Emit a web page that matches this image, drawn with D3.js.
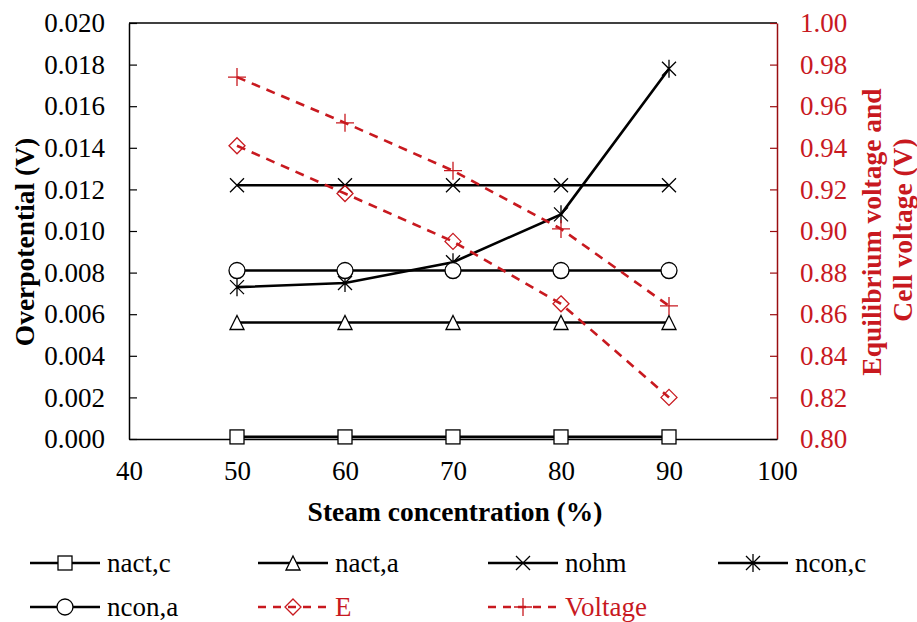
<!DOCTYPE html>
<html>
<head>
<meta charset="utf-8">
<script src="https://cdn.jsdelivr.net/npm/d3@7"></script>
</head>
<body style="margin:0">
<script>
// data
const steam = [50, 60, 70, 80, 90];
const nactC = [0.0001, 0.0001, 0.0001, 0.0001, 0.0001];
const nactA = [0.0056, 0.0056, 0.0056, 0.0056, 0.0056];
const nohm = [0.0122, 0.0122, 0.0122, 0.0122, 0.0122];
const nconC = [0.0073, 0.0075, 0.0085, 0.0108, 0.0178];
const nconA = [0.0081, 0.0081, 0.0081, 0.0081, 0.0081];
const eqE = [0.941, 0.918, 0.895, 0.865, 0.820];
const voltage = [0.974, 0.952, 0.929, 0.901, 0.864];

const xTicks = [40, 50, 60, 70, 80, 90, 100];
const yLeftTicks = d3.range(0, 0.0201, 0.002);
const yRightTicks = d3.range(0.80, 1.001, 0.02);

const red = "#c8191f";
const darkRed = "#9a0d10";
const fontName = '"Liberation Serif"';

const mLeft = 129, mRight = 777, mTop = 23, mBottom = 439;

const svg = d3.select("body").append("svg")
    .attr("width", 917).attr("height", 622)
    .attr("font-family", "Liberation Serif");

const x = d3.scaleLinear().domain([40, 100]).range([mLeft, mRight]);
const y = d3.scaleLinear().domain([0, 0.020]).range([mBottom, mTop]);
const y2 = d3.scaleLinear().domain([0.80, 1.00]).range([mBottom, mTop]);

// top border of plot area
svg.append("line")
  .attr("x1", mLeft).attr("x2", mRight).attr("y1", mTop).attr("y2", mTop)
  .attr("stroke", "#000").attr("stroke-width", 1.5);

// left axis
const gl = svg.append("g")
  .attr("transform", `translate(${mLeft},0)`)
  .call(d3.axisLeft(y).tickValues(yLeftTicks).tickFormat(d3.format(".3f"))
    .tickSizeInner(-8).tickSizeOuter(0).tickPadding(24))
  .attr("font-family", "Liberation Serif").attr("font-size", 27);
gl.select(".domain").attr("stroke", "#000").attr("stroke-width", 1.5);
gl.selectAll(".tick line").attr("stroke", "#000").attr("stroke-width", 1.2);
gl.selectAll(".tick text").attr("fill", "#000")
  .style("font-family", fontName).style("font-size", "27px");

// right axis
const gr = svg.append("g")
  .attr("transform", `translate(${mRight},0)`)
  .call(d3.axisRight(y2).tickValues(yRightTicks).tickFormat(d3.format(".2f"))
    .tickSizeInner(-7).tickSizeOuter(0).tickPadding(23))
  .attr("font-family", "Liberation Serif").attr("font-size", 27);
gr.select(".domain").attr("stroke", darkRed).attr("stroke-width", 1.5);
gr.selectAll(".tick line").attr("stroke", darkRed).attr("stroke-width", 1.2);
gr.selectAll(".tick text").attr("fill", red)
  .style("font-family", fontName).style("font-size", "27px");

// bottom axis
const gb = svg.append("g")
  .attr("transform", `translate(0,${mBottom})`)
  .call(d3.axisBottom(x).tickValues(xTicks).tickFormat(d3.format("d"))
    .tickSize(0).tickPadding(22))
  .attr("font-family", "Liberation Serif").attr("font-size", 27);
gb.select(".domain").attr("stroke", "#000").attr("stroke-width", 1.5);
gb.selectAll(".tick text").attr("fill", "#000").attr("dy", "0.71em")
  .style("font-family", fontName).style("font-size", "27px");

// axis titles
function title(t, color) {
  return t.attr("text-anchor", "middle").attr("fill", color)
    .style("font-family", fontName).style("font-size", "27.5px").style("font-weight", "bold");
}
title(svg.append("text")
  .attr("transform", "translate(34,242) rotate(-90)"), "#000")
  .text("Overpotential (V)");
title(svg.append("text")
  .attr("x", 455).attr("y", 521), "#000")
  .text("Steam concentration (%)");
title(svg.append("text")
  .attr("transform", "translate(881,232) rotate(-90)"), red)
  .text("Equilibrium voltage and");
title(svg.append("text")
  .attr("transform", "translate(912,230) rotate(-90)"), red)
  .text("Cell voltage (V)");

// marker shapes, drawn around (0,0)
function marker(g, kind, color) {
  const s = 7;
  if (kind == "square") {
    g.append("rect").attr("x", -s).attr("y", -s).attr("width", 2 * s).attr("height", 2 * s)
      .attr("fill", "#fff").attr("stroke", color).attr("stroke-width", 1.3);
  } else if (kind == "triangle") {
    g.append("path").attr("d", `M0,${-s}L${s},${s}L${-s},${s}Z`)
      .attr("fill", "#fff").attr("stroke", color).attr("stroke-width", 1.3);
  } else if (kind == "x") {
    g.append("path").attr("d", `M${-s},${-s}L${s},${s}M${-s},${s}L${s},${-s}`)
      .attr("stroke", color).attr("stroke-width", 1.3);
  } else if (kind == "star") {
    g.append("path").attr("d", `M${-s},${-s}L${s},${s}M${-s},${s}L${s},${-s}M0,${-s - 2}L0,${s + 2}`)
      .attr("stroke", color).attr("stroke-width", 1.3);
  } else if (kind == "circle") {
    g.append("circle").attr("r", s + 1)
      .attr("fill", "#fff").attr("stroke", color).attr("stroke-width", 1.3);
  } else if (kind == "diamond") {
    g.append("path").attr("d", `M0,${-s - 1}L${s + 1},0L0,${s + 1}L${-s - 1},0Z`)
      .attr("fill", "none").attr("stroke", color).attr("stroke-width", 1.3);
  } else if (kind == "plus") {
    g.append("path").attr("d", `M${-s - 2},0L${s + 2},0M0,${-s - 2}L0,${s + 2}`)
      .attr("stroke", color).attr("stroke-width", 1.3);
  }
}

const series = [
  { name: "nact,c", values: nactC, scale: y, color: "#000", dash: null, kind: "square" },
  { name: "nact,a", values: nactA, scale: y, color: "#000", dash: null, kind: "triangle" },
  { name: "nohm", values: nohm, scale: y, color: "#000", dash: null, kind: "x" },
  { name: "ncon,c", values: nconC, scale: y, color: "#000", dash: null, kind: "star" },
  { name: "ncon,a", values: nconA, scale: y, color: "#000", dash: null, kind: "circle" },
  { name: "E", values: eqE, scale: y2, color: red, dash: "9,7", kind: "diamond" },
  { name: "Voltage", values: voltage, scale: y2, color: red, dash: "9,7", kind: "plus" }
];

series.forEach(function (s) {
  const pts = steam.map(function (d, i) { return [d, s.values[i]]; });
  svg.append("path")
    .datum(pts)
    .attr("fill", "none")
    .attr("stroke", s.color)
    .attr("stroke-width", 2.6)
    .attr("stroke-dasharray", s.dash)
    .attr("d", d3.line()
      .x(function (d) { return x(d[0]); })
      .y(function (d) { return s.scale(d[1]); }));
  pts.forEach(function (d) {
    const g = svg.append("g").attr("transform", `translate(${x(d[0])},${s.scale(d[1])})`);
    marker(g, s.kind, s.color);
  });
});

// legend
const legX = [30, 258, 488, 718];
const legY = [563, 607];
series.forEach(function (s, i) {
  const lx = legX[i % 4];
  const ly = legY[i < 4 ? 0 : 1];
  const g = svg.append("g").attr("transform", `translate(${lx},${ly})`);
  g.append("line").attr("x1", 0).attr("x2", 70).attr("y1", 0).attr("y2", 0)
    .attr("stroke", s.color).attr("stroke-width", 2.6)
    .attr("stroke-dasharray", s.dash ? "8,7" : null);
  const m = g.append("g").attr("transform", "translate(35,0)");
  marker(m, s.kind, s.color);
  g.append("text").attr("x", 77).attr("y", 0).attr("dy", "0.33em")
    .attr("fill", s.dash ? red : "#000")
    .style("font-family", fontName).style("font-size", "27px")
    .text(s.name);
});
</script>
</body>
</html>
